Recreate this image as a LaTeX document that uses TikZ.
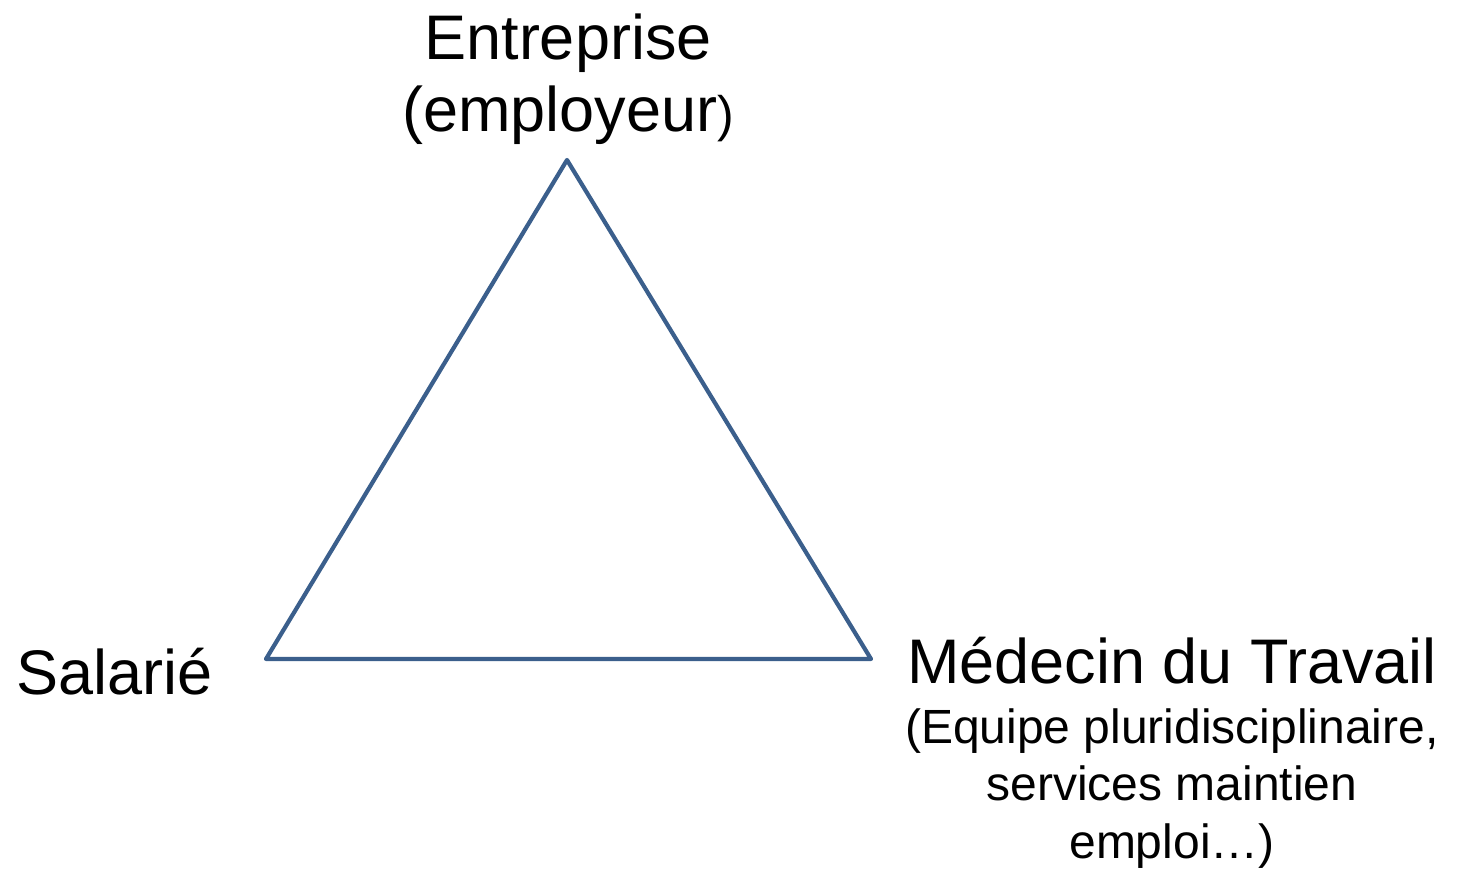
\documentclass[tikz,border=0pt]{standalone}
\usepackage{fontspec}
\setmainfont{Liberation Sans}
\definecolor{edgeblue}{HTML}{3B5F8C}
\begin{document}
\begin{tikzpicture}[x=1pt,y=-1pt,
  bigtxt/.style={inner sep=0pt, anchor=base, align=center, font=\fontsize{63}{72}\selectfont},
  smalltxt/.style={inner sep=0pt, anchor=base, align=center, font=\fontsize{48}{57.5}\selectfont},
  side/.style={draw=edgeblue, line width=4.2pt, line join=round}]
  \useasboundingbox (0,0) rectangle (1459,869);
  % corners of the triangle
  \coordinate (top) at (567,160);
  \coordinate (left) at (266,659);
  \coordinate (right) at (871,659);
  \draw[side] (top) -- (right) -- (left) -- cycle;
  % labels (multi-line nodes sit on the baseline of their last line)
  \node[bigtxt] (ent) at (568,132) {Entreprise\\(employeur{\fontsize{50}{60}\selectfont)}};
  \node[bigtxt, anchor=base west] (sal) at (16,694) {Salarié};
  \node[bigtxt] (med) at (1172,683) {Médecin du Travail};
  \node[smalltxt] (eq) at (1172,858) {(Equipe pluridisciplinaire,\\services maintien\\emploi…)};
\end{tikzpicture}
\end{document}
